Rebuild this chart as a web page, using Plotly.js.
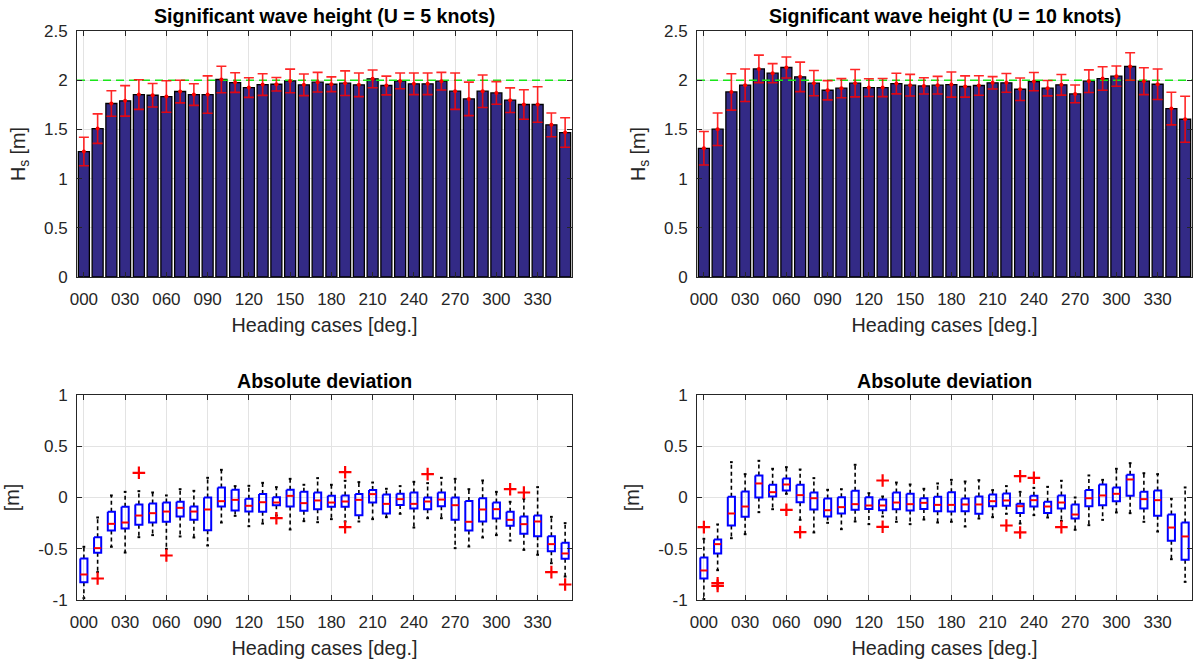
<!DOCTYPE html>
<html>
<head>
<meta charset="utf-8">
<script src="https://cdn.plot.ly/plotly-3.0.1.min.js"></script>
<style>html,body{margin:0;padding:0;background:#fff}#chart{width:1193px;height:662px}</style>
</head>
<body>
<div id="chart"></div>
<script>
// ---------- data ----------
const headings = [0,10,20,30,40,50,60,70,80,90,100,110,120,130,140,150,160,170,180,190,200,210,220,230,240,250,260,270,280,290,300,310,320,330,340,350];
const xTickVals = [0,30,60,90,120,150,180,210,240,270,300,330];
const xTickText = ['000','030','060','090','120','150','180','210','240','270','300','330'];
const hsTickVals = [0,0.5,1,1.5,2,2.5];
const hsTickText = ['0','0.5','1','1.5','2','2.5'];
const devTickVals = [-1,-0.5,0,0.5,1];
const devTickText = ['-1','-0.5','0','0.5','1'];
const targetHs = 2;

// Significant wave height, U = 5 knots (mean and std)
const hs5Mean = [1.275,1.508,1.763,1.79,1.854,1.847,1.834,1.885,1.854,1.854,2.007,1.976,1.925,1.956,1.959,1.993,1.953,1.98,1.959,1.97,1.953,2.014,1.946,1.993,1.963,1.963,1.99,1.888,1.81,1.888,1.871,1.797,1.753,1.753,1.546,1.468];
const hs5Std  = [0.145,0.15,0.13,0.155,0.15,0.12,0.16,0.115,0.11,0.19,0.135,0.10,0.10,0.11,0.068,0.12,0.11,0.10,0.075,0.125,0.12,0.09,0.095,0.08,0.11,0.11,0.09,0.185,0.17,0.165,0.115,0.125,0.15,0.18,0.12,0.15];
// Significant wave height, U = 10 knots
const hs10Mean = [1.308,1.502,1.881,1.949,2.115,2.071,2.129,2.034,1.97,1.898,1.919,1.97,1.925,1.925,1.966,1.949,1.942,1.949,1.956,1.936,1.946,1.973,1.973,1.908,1.986,1.919,1.953,1.861,1.99,2.017,2.041,2.139,1.99,1.959,1.712,1.603];
const hs10Std  = [0.17,0.165,0.185,0.165,0.14,0.097,0.107,0.15,0.128,0.098,0.097,0.139,0.09,0.092,0.105,0.11,0.083,0.09,0.128,0.108,0.099,0.063,0.095,0.114,0.093,0.078,0.105,0.09,0.115,0.119,0.103,0.14,0.137,0.155,0.166,0.234];

// Absolute deviation, U = 5 knots (box statistics)
const dev5Upper = [-0.481,-0.195,0.02,0.055,0.062,0.049,0.02,0.081,0.065,0.192,0.27,0.111,0.114,0.143,0.101,0.182,0.124,0.189,0.124,0.163,0.15,0.146,0.085,0.111,0.153,0.14,0.192,0.182,0.081,0.166,0.055,-0.042,-0.013,0.101,-0.189,-0.25];
const dev5Q3    = [-0.595,-0.387,-0.14,-0.091,-0.068,-0.059,-0.049,-0.042,-0.088,0.0,0.098,0.075,-0.013,0.033,0.003,0.075,0.055,0.049,0.016,0.02,0.033,0.072,0.029,0.036,0.049,0.0,0.049,0.0,-0.033,-0.007,-0.049,-0.14,-0.185,-0.176,-0.377,-0.442];
const dev5Med   = [-0.751,-0.494,-0.257,-0.244,-0.176,-0.153,-0.137,-0.101,-0.137,-0.117,-0.036,-0.023,-0.081,-0.046,-0.049,0.016,-0.055,-0.029,-0.049,-0.039,-0.023,0.033,-0.062,-0.016,-0.062,-0.039,-0.02,-0.075,-0.237,-0.117,-0.114,-0.218,-0.26,-0.234,-0.455,-0.546];
const dev5Q1    = [-0.826,-0.54,-0.322,-0.302,-0.267,-0.244,-0.237,-0.185,-0.218,-0.319,-0.088,-0.127,-0.137,-0.14,-0.075,-0.088,-0.13,-0.114,-0.091,-0.091,-0.172,-0.049,-0.156,-0.072,-0.107,-0.114,-0.085,-0.218,-0.322,-0.234,-0.205,-0.276,-0.354,-0.377,-0.524,-0.598];
const dev5Lower = [-0.982,-0.728,-0.481,-0.537,-0.387,-0.367,-0.501,-0.38,-0.39,-0.468,-0.244,-0.179,-0.28,-0.254,-0.176,-0.312,-0.231,-0.241,-0.211,-0.234,-0.234,-0.211,-0.192,-0.159,-0.293,-0.202,-0.202,-0.494,-0.478,-0.39,-0.367,-0.42,-0.511,-0.559,-0.641,-0.771];
const dev5OutX  = [10,40,60,140,190,190,250,310,320,340,350];
const dev5OutY  = [-0.79,0.241,-0.566,-0.202,0.247,-0.289,0.228,0.081,0.049,-0.728,-0.849];

// Absolute deviation, U = 10 knots
const dev10Upper = [-0.403,-0.263,0.345,0.228,0.358,0.28,0.296,0.273,0.189,0.075,0.081,0.319,0.042,0.01,0.146,0.127,0.085,0.137,0.172,0.156,0.169,0.072,0.111,0.055,0.094,0.104,0.163,0.0,0.215,0.172,0.28,0.335,0.237,0.228,-0.013,0.098];
const dev10Q3    = [-0.585,-0.41,0.007,0.059,0.215,0.124,0.185,0.124,0.049,-0.01,0.003,0.065,0.003,-0.02,0.049,0.036,-0.007,0.007,0.052,-0.01,0.01,0.029,0.039,-0.062,0.016,-0.042,0.02,-0.068,0.072,0.127,0.098,0.221,0.055,0.068,-0.166,-0.244];
const dev10Med   = [-0.712,-0.455,-0.156,-0.088,0.137,0.052,0.127,0.023,-0.007,-0.124,-0.094,-0.065,-0.078,-0.078,-0.049,-0.065,-0.052,-0.072,-0.072,-0.068,-0.068,-0.036,-0.029,-0.085,-0.026,-0.088,-0.049,-0.166,-0.007,0.02,0.036,0.176,-0.016,-0.026,-0.293,-0.38];
const dev10Q1    = [-0.79,-0.546,-0.273,-0.189,0.0,0.01,0.068,-0.046,-0.117,-0.185,-0.156,-0.12,-0.111,-0.124,-0.114,-0.127,-0.111,-0.133,-0.137,-0.133,-0.159,-0.085,-0.081,-0.15,-0.088,-0.15,-0.107,-0.205,-0.085,-0.075,-0.036,0.016,-0.107,-0.179,-0.423,-0.608];
const dev10Lower = [-0.99,-0.709,-0.397,-0.358,-0.143,-0.114,0.036,-0.218,-0.341,-0.247,-0.309,-0.234,-0.26,-0.185,-0.237,-0.26,-0.215,-0.244,-0.237,-0.283,-0.205,-0.192,-0.159,-0.254,-0.172,-0.195,-0.228,-0.315,-0.27,-0.218,-0.146,-0.153,-0.237,-0.332,-0.602,-0.823];
const dev10OutX  = [0,10,10,60,70,130,130,220,230,230,240,260];
const dev10OutY  = [-0.289,-0.836,-0.862,-0.12,-0.338,0.166,-0.286,-0.273,0.208,-0.341,0.192,-0.289];

// ---------- styling constants ----------
const FONT = '"Liberation Sans", Arial, Helvetica, sans-serif';
const TXT = '#262626';
const xRange = [-5, 355];
const barWidth = 8;
const boxHalf = 2.6;
const capHalf = 1.0;

function barTraces(mean, std, xa, ya) {
  return [
    {type:'bar', x:headings, y:mean, width:barWidth, xaxis:xa, yaxis:ya,
     marker:{color:'#332a86', line:{color:'#000000', width:1.3}}, hoverinfo:'x+y'},
    {type:'scatter', mode:'lines', x:xRange, y:[targetHs, targetHs], xaxis:xa, yaxis:ya,
     line:{color:'#19e619', width:1.6, dash:'8px,5px'}, hoverinfo:'skip'},
    {type:'scatter', mode:'markers', x:headings, y:mean, xaxis:xa, yaxis:ya,
     marker:{color:'#ff0000', size:4},
     error_y:{type:'data', array:std, visible:true, color:'rgba(255,0,0,0.85)', thickness:1.6, width:5}}
  ];
}

function boxTraces(up, q3, med, q1, low, outX, outY, xa, ya) {
  const wx = [], wy = [], cx = [], cy = [], bx = [], by = [], mx = [], my = [];
  headings.forEach((h, i) => {
    wx.push(h, h, null, h, h, null);
    wy.push(q3[i], up[i], null, q1[i], low[i], null);
    cx.push(h - capHalf, h + capHalf, null, h - capHalf, h + capHalf, null);
    cy.push(up[i], up[i], null, low[i], low[i], null);
    bx.push(h - boxHalf, h + boxHalf, h + boxHalf, h - boxHalf, h - boxHalf, null);
    by.push(q3[i], q3[i], q1[i], q1[i], q3[i], null);
    mx.push(h - boxHalf, h + boxHalf, null);
    my.push(med[i], med[i], null);
  });
  return [
    {type:'scatter', mode:'lines', x:wx, y:wy, xaxis:xa, yaxis:ya, connectgaps:false,
     line:{color:'#000000', width:1.6, dash:'4px,3px'}, hoverinfo:'skip'},
    {type:'scatter', mode:'lines', x:cx, y:cy, xaxis:xa, yaxis:ya, connectgaps:false,
     line:{color:'#000000', width:2}, hoverinfo:'skip'},
    {type:'scatter', mode:'lines', x:bx, y:by, xaxis:xa, yaxis:ya, connectgaps:false,
     line:{color:'#0000ff', width:2}, hoverinfo:'skip'},
    {type:'scatter', mode:'lines', x:mx, y:my, xaxis:xa, yaxis:ya, connectgaps:false,
     line:{color:'#ff0000', width:2}, hoverinfo:'skip'},
    {type:'scatter', mode:'markers', x:outX, y:outY, xaxis:xa, yaxis:ya,
     marker:{symbol:'cross-thin', size:9, line:{color:'#ff0000', width:2.2}}}
  ];
}

const data = [].concat(
  barTraces(hs5Mean, hs5Std, 'x', 'y'),
  barTraces(hs10Mean, hs10Std, 'x2', 'y2'),
  boxTraces(dev5Upper, dev5Q3, dev5Med, dev5Q1, dev5Lower, dev5OutX, dev5OutY, 'x3', 'y3'),
  boxTraces(dev10Upper, dev10Q3, dev10Med, dev10Q1, dev10Lower, dev10OutX, dev10OutY, 'x4', 'y4')
);

const W = 1193, H = 662;
const colL = [77/W, 572/W], colR = [697/W, 1192/W];
const rowT = [1 - 277/H, 1 - 31/H], rowB = [1 - 600/H, 1 - 395/H];

function xAxis(dom, anchor) {
  return {domain:dom, anchor:anchor, range:xRange, tickmode:'array', tickvals:xTickVals, ticktext:xTickText,
    ticks:'inside', ticklen:5, tickcolor:TXT, tickwidth:1, showline:true, linecolor:TXT, linewidth:1, mirror:'ticks',
    showgrid:true, gridcolor:'#e3e3e3', gridwidth:1, zeroline:false, automargin:false, ticklabelstandoff:7,
    tickfont:{family:FONT, size:17, color:TXT},
    title:{text:'Heading cases [deg.]', standoff:9, font:{family:FONT, size:19.8, color:TXT}}};
}
function yAxis(dom, anchor, range, tv, tt, ttl) {
  return {domain:dom, anchor:anchor, range:range, tickmode:'array', tickvals:tv, ticktext:tt,
    ticks:'inside', ticklen:5, tickcolor:TXT, tickwidth:1, showline:true, linecolor:TXT, linewidth:1, mirror:'ticks',
    showgrid:true, gridcolor:'#e3e3e3', gridwidth:1, zeroline:false, automargin:false, ticklabelstandoff:5,
    tickfont:{family:FONT, size:17, color:TXT},
    title:{text:ttl, standoff:13, font:{family:FONT, size:19.8, color:TXT}}};
}

function titleAnn(text, dom, ypx) {
  return {text:'<b>' + text + '</b>', xref:'paper', yref:'paper', x:(dom[0] + dom[1]) / 2, y:1 - ypx / H,
    xanchor:'center', yanchor:'middle', showarrow:false, font:{family:FONT, size:19.6, color:'#000000'}};
}

const layout = {
  width:W, height:H, margin:{l:0, r:0, t:0, b:0}, paper_bgcolor:'#ffffff', plot_bgcolor:'#ffffff',
  showlegend:false, bargap:0,
  xaxis:xAxis(colL, 'y'), yaxis:yAxis(rowT, 'x', [0, 2.5], hsTickVals, hsTickText, 'H<sub>s</sub> [m]'),
  xaxis2:xAxis(colR, 'y2'), yaxis2:yAxis(rowT, 'x2', [0, 2.5], hsTickVals, hsTickText, 'H<sub>s</sub> [m]'),
  xaxis3:xAxis(colL, 'y3'), yaxis3:yAxis(rowB, 'x3', [-1, 1], devTickVals, devTickText, '[m]'),
  xaxis4:xAxis(colR, 'y4'), yaxis4:yAxis(rowB, 'x4', [-1, 1], devTickVals, devTickText, '[m]'),
  annotations:[
    titleAnn('Significant wave height (U = 5 knots)', colL, 16),
    titleAnn('Significant wave height (U = 10 knots)', colR, 16),
    titleAnn('Absolute deviation', colL, 381),
    titleAnn('Absolute deviation', colR, 381)
  ]
};

Plotly.newPlot('chart', data, layout, {displayModeBar:false, staticPlot:true});
</script>
</body>
</html>
